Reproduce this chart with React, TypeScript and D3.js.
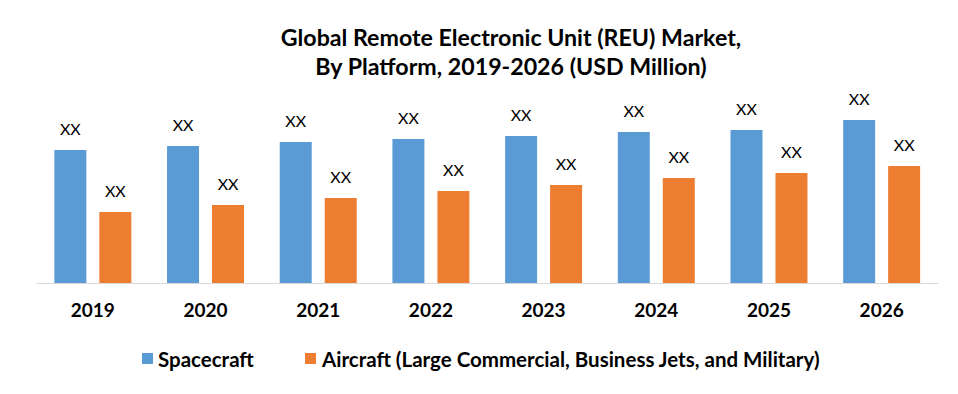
import React from "react";
import { scaleBand, scaleLinear } from "d3";

const years = ["2019", "2020", "2021", "2022", "2023", "2024", "2025", "2026"];
const seriesNames = ["Spacecraft", "Aircraft (Large Commercial, Business Jets, and Military)"];
const spacecraft = [133, 137, 141, 144, 147, 151, 153, 163];
const aircraft = [71, 78, 85, 92, 98, 105, 110, 117];
const colors = ["#5b9bd5", "#ed7d31"];
const titleLines = ["Global Remote Electronic Unit (REU) Market,", "By Platform, 2019-2026 (USD Million)"];

const font = "Lato, 'Open Sans', sans-serif";

export default function App() {
  const width = 958;
  const height = 394;
  const baseY = 283;

  const x0 = scaleBand().domain(years).range([36.5, 938]).paddingInner(0).paddingOuter(0);
  const x1 = scaleBand()
    .domain(seriesNames)
    .range([0, x0.bandwidth()])
    .paddingInner(0.289)
    .paddingOuter(0.397);
  const y = scaleLinear().domain([0, 200]).range([baseY, baseY - 200]);

  const series = [spacecraft, aircraft];

  return (
    <>
      <style>{`body{margin:0}`}</style>
      <svg width={width} height={height} style={{ display: "block", background: "#fff" }} fontFamily={font}>
        {titleLines.map((t, i) => (
          <text key={i} x={511} y={46 + i * 29} textAnchor="middle" fontSize="23.2" fontWeight="700" fill="#000">
            {t}
          </text>
        ))}

        <line x1={36.5} x2={938} y1={baseY + 0.5} y2={baseY + 0.5} stroke="#d9d9d9" strokeWidth={1} />

        {years.map((yr, i) => (
          <g key={yr} transform={`translate(${x0(yr)},0)`}>
            {series.map((vals, s) => {
              const bx = x1(seriesNames[s]);
              return (
                <g key={s}>
                  <rect x={bx} y={y(vals[i])} width={x1.bandwidth()} height={baseY - y(vals[i])} fill={colors[s]} />
                  <text
                    x={bx + x1.bandwidth() / 2}
                    y={y(vals[i]) - 15}
                    textAnchor="middle"
                    fontSize="16"
                    fill="#000"
                  >
                    XX
                  </text>
                </g>
              );
            })}
            <text x={x0.bandwidth() / 2} y={317} textAnchor="middle" fontSize="19" fontWeight="700" fill="#000">
              {yr}
            </text>
          </g>
        ))}

        <g transform="translate(142,353)">
          <rect x={0} y={0} width={11} height={11} fill={colors[0]} />
          <text x={16} y={13.5} fontSize="20.5" fontWeight="700" fill="#000">{seriesNames[0]}</text>
        </g>
        <g transform="translate(305,353)">
          <rect x={0} y={0} width={11} height={11} fill={colors[1]} />
          <text x={17} y={13.5} fontSize="20.5" fontWeight="700" fill="#000">{seriesNames[1]}</text>
        </g>
      </svg>
    </>
  );
}
